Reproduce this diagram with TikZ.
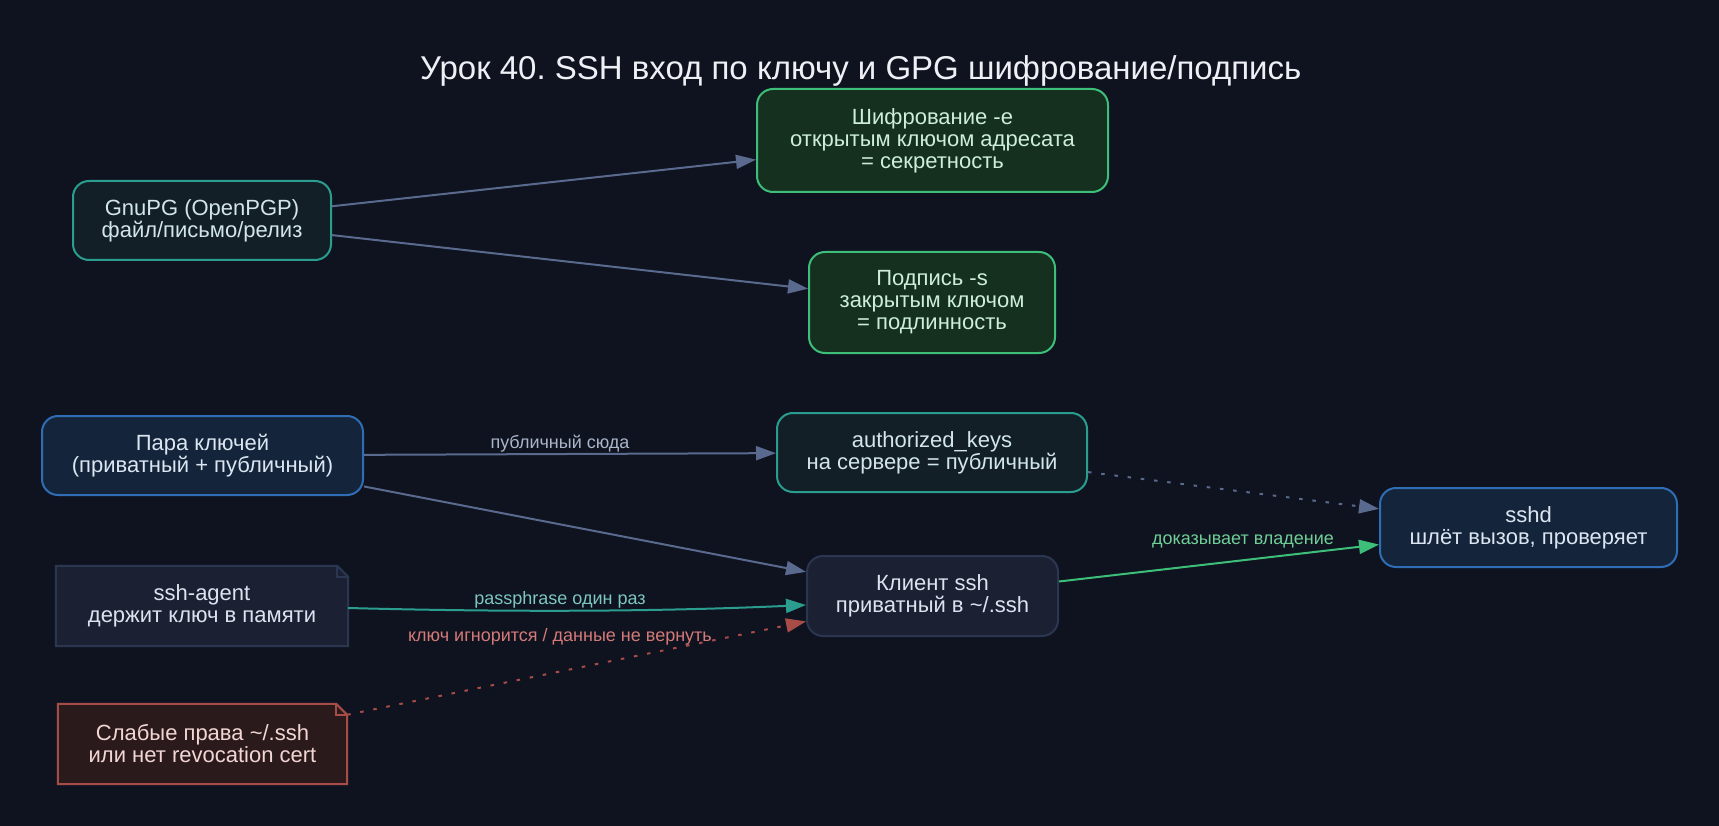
\documentclass[tikz,border=0pt]{standalone}
\usepackage{fontspec}
\setmainfont{Liberation Sans}
\usetikzlibrary{arrows.meta,calc}
\frenchspacing
\definecolor{bg}{HTML}{0F131F}
\definecolor{titlec}{HTML}{EEF0F5}
\definecolor{tealfill}{HTML}{131F27}
\definecolor{tealline}{HTML}{2A9D8F}
\definecolor{tealtext}{HTML}{D2E6EA}
\definecolor{bluefill}{HTML}{14253B}
\definecolor{blueline}{HTML}{2F6DB5}
\definecolor{bluetext}{HTML}{DCE6F2}
\definecolor{greenfill}{HTML}{16301F}
\definecolor{greenline}{HTML}{3DBF7A}
\definecolor{greentext}{HTML}{CDEED8}
\definecolor{grayfill}{HTML}{1B2133}
\definecolor{grayline}{HTML}{2B3650}
\definecolor{graytext}{HTML}{DDE3EE}
\definecolor{redfill}{HTML}{2B1A1C}
\definecolor{redline}{HTML}{A84C48}
\definecolor{redtext}{HTML}{F3D6D3}
\definecolor{slate}{HTML}{5A6A8E}
\definecolor{slatelabel}{HTML}{A9B5C9}
\definecolor{teallabel}{HTML}{7CC7BF}
\definecolor{greenlabel}{HTML}{6FCF97}
\definecolor{redlabel}{HTML}{D47A78}
\tikzset{
  box/.style={rounded corners=16pt, line width=2pt, align=center, inner sep=0pt,
    font=\fontsize{22}{22}\selectfont},
  tealbox/.style={box, fill=tealfill, draw=tealline, text=tealtext},
  bluebox/.style={box, fill=bluefill, draw=blueline, text=bluetext},
  greenbox/.style={box, fill=greenfill, draw=greenline, text=greentext},
  graybox/.style={box, fill=grayfill, draw=grayline, text=graytext},
  notebox/.style={align=center, inner sep=0pt, font=\fontsize{22}{22}\selectfont},
  conn/.style={line width=2pt, -{Triangle[length=20pt,width=14pt]}},
  dotline/.style={dash pattern=on 3.5pt off 9.8pt},
  elabel/.style={inner sep=0pt, font=\fontsize{18}{18}\selectfont},
}
\begin{document}
\begin{tikzpicture}[x=1pt,y=-1pt]
\fill[bg] (0,0) rectangle (1719,826);
\useasboundingbox (0,0) rectangle (1719,826);

\node[anchor=base, text=titlec, font=\fontsize{33}{34}\selectfont] (title) at (860.7,79.5) {Урок 40. SSH вход по ключу и GPG шифрование/подпись};

\node[tealbox, minimum width=258pt, minimum height=79pt] (gnupg) at (202,220.5) {GnuPG (OpenPGP)\\файл/письмо/релиз};
\node[bluebox, minimum width=321pt, minimum height=79pt] (pair) at (202.5,455.5) {Пара ключей\\(приватный + публичный)};
\node[greenbox, minimum width=351pt, minimum height=103pt] (enc) at (932.5,140.5) {Шифрование -e\\открытым ключом адресата\\= секретность};
\node[greenbox, minimum width=246pt, minimum height=101pt] (sig) at (932,302.5) {Подпись -s\\закрытым ключом\\= подлинность};
\node[tealbox, minimum width=310pt, minimum height=79pt] (auth) at (932,452.5) {authorized\_keys\\на сервере = публичный};
\node[graybox, minimum width=251pt, minimum height=80pt] (client) at (932.5,596) {Клиент ssh\\приватный в \char"7E/.ssh};
\node[bluebox, minimum width=297pt, minimum height=79pt] (sshd) at (1528.5,527.5) {sshd\\шлёт вызов, проверяет};

% note shapes
\node[notebox, minimum width=292pt, minimum height=80pt, text=graytext] (agent) at (202,606) {};
\filldraw[fill=grayfill, draw=grayline, line width=2pt, line join=miter]
  (agent.north west) -- ($(agent.north east)+(-11,0)$) -- ($(agent.north east)+(0,11)$)
  -- (agent.south east) -- (agent.south west) -- cycle;
\draw[grayline, line width=2pt] ($(agent.north east)+(-11,0)$) -- ($(agent.north east)+(-11,11)$) -- ($(agent.north east)+(0,11)$);
\node[notebox, text=graytext] (agenttext) at (agent.center) {ssh-agent\\держит ключ в памяти};

\node[notebox, minimum width=289pt, minimum height=80pt, text=redtext] (weak) at (202.5,744) {};
\filldraw[fill=redfill, draw=redline, line width=2pt, line join=miter]
  (weak.north west) -- ($(weak.north east)+(-11,0)$) -- ($(weak.north east)+(0,11)$)
  -- (weak.south east) -- (weak.south west) -- cycle;
\draw[redline, line width=2pt] ($(weak.north east)+(-11,0)$) -- ($(weak.north east)+(-11,11)$) -- ($(weak.north east)+(0,11)$);
\node[notebox, text=redtext] (weaktext) at (weak.center) {Слабые права \char"7E/.ssh\\или нет revocation cert};

% connectors
\draw[conn, slate] (gnupg) -- (enc);
\draw[conn, slate] (gnupg) -- (sig);
\draw[conn, slate] (pair) -- (auth);
\draw[conn, slate] (pair) -- (client);
\draw[conn, slate, dotline] (auth) -- (sshd);
\draw[conn, greenline] (client) -- (sshd);
\draw[conn, tealline] ($(agent.east)+(0,2)$) .. controls (500,612) and (650,612) .. ($(client.west)+(0,9)$);
\draw[conn, redline, dotline] (weak) -- (client);

% labels
\node[elabel, text=slatelabel] (l1) at (560,444) {публичный сюда};
\node[elabel, text=teallabel] (l2) at (560,600) {passphrase один раз};
\node[elabel, text=redlabel] (l3) at (560,637) {ключ игнорится / данные не вернуть};
\node[elabel, text=greenlabel] (l4) at (1243,541) {доказывает владение};
\end{tikzpicture}
\end{document}
